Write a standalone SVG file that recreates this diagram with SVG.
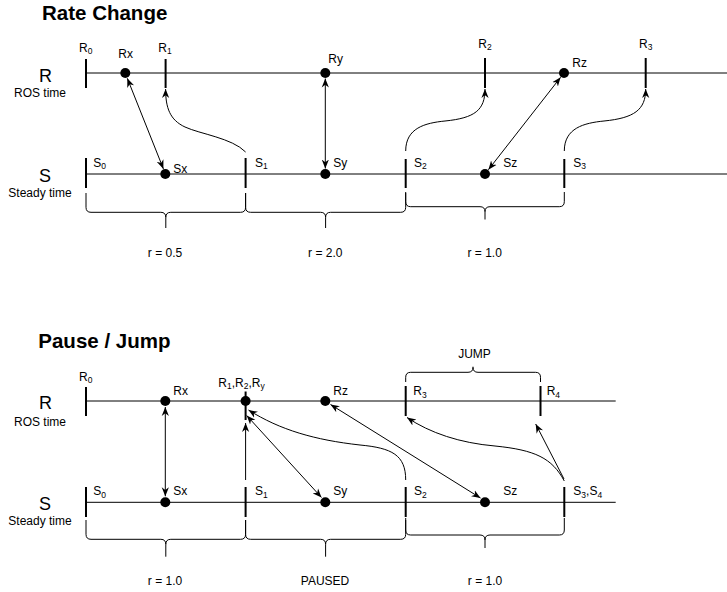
<svg xmlns="http://www.w3.org/2000/svg" width="727" height="592" viewBox="0 0 727 592">
<style>
text{font-family:"Liberation Sans",Arial,Helvetica,sans-serif;fill:#000}
.title{font-size:20.5px;font-weight:bold}
.big{font-size:18px}
.lbl{font-size:12px}
.sub{font-size:8.5px}
.mid{text-anchor:middle}
.axis{stroke:#000;stroke-width:1;fill:none}
.tick{stroke:#000;stroke-width:2;fill:none}
.dot{fill:#000}
.brace{stroke:#000;stroke-width:1;fill:none}
.edge{stroke:#000;stroke-width:1;fill:none}
.arr{marker-end:url(#ah)}
.dbl{marker-start:url(#ah);marker-end:url(#ah)}
</style>
<defs>
<marker id="ah" viewBox="0 0 10 10" refX="10" refY="5" markerWidth="9" markerHeight="9" markerUnits="userSpaceOnUse" orient="auto-start-reverse">
<path d="M0,1 L10,5 L0,9 L3,5 z" fill="#000"/>
</marker>
</defs>
<rect width="727" height="592" fill="#fff"/>

<!-- ===== Rate Change ===== -->
<g id="rate-change-title"><text class="title" x="42" y="19.5">Rate Change</text></g>
<g id="rc-axis-R">
<line class="axis" x1="86" y1="73" x2="727" y2="73"/>
<text class="big mid" x="45.5" y="81.5">R</text>
<text class="lbl mid" x="40" y="97">ROS time</text>
</g>
<g id="rc-axis-S">
<line class="axis" x1="86" y1="174" x2="727" y2="174"/>
<text class="big mid" x="45" y="182">S</text>
<text class="lbl mid" x="40" y="197">Steady time</text>
</g>
<g id="rc-R0"><line class="tick" x1="86" y1="59" x2="86" y2="88"/><text class="lbl" x="79" y="51.7">R<tspan class="sub" dy="2.5">0</tspan></text></g>
<g id="rc-Rx"><circle class="dot" cx="125.3" cy="73" r="5"/><text class="lbl" x="118.3" y="58.3">Rx</text></g>
<g id="rc-R1"><line class="tick" x1="165.6" y1="59" x2="165.6" y2="88"/><text class="lbl" x="158.3" y="51.7">R<tspan class="sub" dy="2.5">1</tspan></text></g>
<g id="rc-Ry"><circle class="dot" cx="325.3" cy="73" r="5"/><text class="lbl" x="328.3" y="63.3">Ry</text></g>
<g id="rc-R2"><line class="tick" x1="485" y1="58" x2="485" y2="88"/><text class="lbl" x="478.3" y="47.7">R<tspan class="sub" dy="2.5">2</tspan></text></g>
<g id="rc-Rz"><circle class="dot" cx="564" cy="73" r="5"/><text class="lbl" x="572.3" y="66.7">Rz</text></g>
<g id="rc-R3"><line class="tick" x1="645.7" y1="58" x2="645.7" y2="88"/><text class="lbl" x="639" y="47.7">R<tspan class="sub" dy="2.5">3</tspan></text></g>

<g id="rc-S0"><line class="tick" x1="86" y1="158" x2="86" y2="188"/><text class="lbl" x="93.3" y="166.7">S<tspan class="sub" dy="2.5">0</tspan></text></g>
<g id="rc-Sx"><circle class="dot" cx="165.3" cy="174" r="5"/><text class="lbl" x="173.3" y="173.3">Sx</text></g>
<g id="rc-S1"><line class="tick" x1="245.6" y1="158" x2="245.6" y2="188"/><text class="lbl" x="255" y="166.7">S<tspan class="sub" dy="2.5">1</tspan></text></g>
<g id="rc-Sy"><circle class="dot" cx="325.3" cy="174" r="5"/><text class="lbl" x="333.3" y="166.7">Sy</text></g>
<g id="rc-S2"><line class="tick" x1="405.7" y1="159" x2="405.7" y2="188"/><text class="lbl" x="414" y="166.7">S<tspan class="sub" dy="2.5">2</tspan></text></g>
<g id="rc-Sz"><circle class="dot" cx="485" cy="174" r="5"/><text class="lbl" x="503.3" y="166.7">Sz</text></g>
<g id="rc-S3"><line class="tick" x1="564.3" y1="159" x2="564.3" y2="188"/><text class="lbl" x="573.3" y="166.7">S<tspan class="sub" dy="2.5">3</tspan></text></g>

<g id="rc-brace-1"><path class="brace" d="M86,193 L86,207.3 Q86,212.3 91,212.3 L160.8,212.3 Q165.8,212.3 165.8,217.3 L165.8,228 M165.8,217.3 Q165.8,212.3 170.8,212.3 L240.6,212.3 Q245.6,212.3 245.6,207.3 L245.6,193"/><text class="lbl mid" x="165" y="257">r = 0.5</text></g>
<g id="rc-brace-2"><path class="brace" d="M245.6,193 L245.6,207.3 Q245.6,212.3 250.6,212.3 L320.6,212.3 Q325.6,212.3 325.6,217.3 L325.6,228 M325.6,217.3 Q325.6,212.3 330.6,212.3 L400.7,212.3 Q405.7,212.3 405.7,207.3 L405.7,193"/><text class="lbl mid" x="325.3" y="257">r = 2.0</text></g>
<g id="rc-brace-3"><path class="brace" d="M405.7,192 L405.7,201.7 Q405.7,206.7 410.7,206.7 L480,206.7 Q485,206.7 485,211.7 L485,219.5 M485,211.7 Q485,206.7 490,206.7 L559.3,206.7 Q564.3,206.7 564.3,201.7 L564.3,192"/><text class="lbl mid" x="484.7" y="257">r = 1.0</text></g>

<g id="rc-connectors">
<line class="edge dbl" x1="127.3" y1="78.3" x2="163.4" y2="168.9"/>
<path class="edge arr" d="M245.6,152 C232,138 200,134 185,127 C170,120 165.6,108 165.6,89"/>
<line class="edge dbl" x1="325.3" y1="78.5" x2="325.3" y2="168.5"/>
<path class="edge arr" d="M405.7,151 C405.7,128 425,123 445,121 C475,118 485,110 485,89"/>
<line class="edge dbl" x1="560.6" y1="77.3" x2="488.4" y2="169.7"/>
<path class="edge arr" d="M564.3,151 C564.3,128 584,123 604,121 C634,118 645.7,110 645.7,89"/>
</g>

<!-- ===== Pause / Jump ===== -->
<g id="pause-jump-title"><text class="title" x="38.3" y="347.5">Pause / Jump</text></g>
<g id="pj-axis-R">
<line class="axis" x1="86" y1="401" x2="615.7" y2="401"/>
<text class="big mid" x="45.5" y="409.3">R</text>
<text class="lbl mid" x="40" y="426">ROS time</text>
</g>
<g id="pj-axis-S">
<line class="axis" x1="86" y1="502.3" x2="615.7" y2="502.3"/>
<text class="big mid" x="45" y="510">S</text>
<text class="lbl mid" x="40" y="525">Steady time</text>
</g>
<g id="pj-R0"><line class="tick" x1="86" y1="387" x2="86" y2="416"/><text class="lbl" x="79" y="380.5">R<tspan class="sub" dy="2.5">0</tspan></text></g>
<g id="pj-Rx"><circle class="dot" cx="165.3" cy="401" r="5"/><text class="lbl" x="173.3" y="395">Rx</text></g>
<g id="pj-R1R2Ry"><line class="tick" x1="245.6" y1="391.5" x2="245.6" y2="420"/><circle class="dot" cx="245.6" cy="401" r="5"/><text class="lbl" x="218.3" y="386.7">R<tspan class="sub" dy="2.5">1</tspan><tspan dy="-2.5">,R</tspan><tspan class="sub" dy="2.5">2</tspan><tspan dy="-2.5">,R</tspan><tspan class="sub" dy="2.5">y</tspan></text></g>
<g id="pj-Rz"><circle class="dot" cx="325.3" cy="401" r="5"/><text class="lbl" x="333.3" y="395">Rz</text></g>
<g id="pj-R3"><line class="tick" x1="405.7" y1="386" x2="405.7" y2="416"/><text class="lbl" x="413.3" y="395">R<tspan class="sub" dy="2.5">3</tspan></text></g>
<g id="pj-R4"><line class="tick" x1="540.5" y1="386" x2="540.5" y2="416"/><text class="lbl" x="546.7" y="395">R<tspan class="sub" dy="2.5">4</tspan></text></g>
<g id="pj-jump-brace"><path class="brace" d="M405.7,382 L405.7,377.3 Q405.7,372.3 410.7,372.3 L468,372.3 Q473,372.3 473,367.3 L473,366.7 M473,367.3 Q473,372.3 478,372.3 L535.5,372.3 Q540.5,372.3 540.5,377.3 L540.5,382"/><text class="lbl mid" x="474.5" y="358.3">JUMP</text></g>

<g id="pj-S0"><line class="tick" x1="86" y1="487" x2="86" y2="517"/><text class="lbl" x="93.3" y="495">S<tspan class="sub" dy="2.5">0</tspan></text></g>
<g id="pj-Sx"><circle class="dot" cx="165.3" cy="502.3" r="5"/><text class="lbl" x="173.3" y="495">Sx</text></g>
<g id="pj-S1"><line class="tick" x1="245.6" y1="487" x2="245.6" y2="517"/><text class="lbl" x="255" y="495">S<tspan class="sub" dy="2.5">1</tspan></text></g>
<g id="pj-Sy"><circle class="dot" cx="325.3" cy="502.3" r="5"/><text class="lbl" x="333.3" y="495">Sy</text></g>
<g id="pj-S2"><line class="tick" x1="405.7" y1="487" x2="405.7" y2="517"/><text class="lbl" x="414" y="495">S<tspan class="sub" dy="2.5">2</tspan></text></g>
<g id="pj-Sz"><circle class="dot" cx="485" cy="502.3" r="5"/><text class="lbl" x="503.3" y="495">Sz</text></g>
<g id="pj-S3S4"><line class="tick" x1="564.3" y1="487" x2="564.3" y2="517"/><text class="lbl" x="573.3" y="495">S<tspan class="sub" dy="2.5">3</tspan><tspan dy="-2.5">,S</tspan><tspan class="sub" dy="2.5">4</tspan></text></g>

<g id="pj-brace-1"><path class="brace" d="M86,520 L86,534.3 Q86,539.3 91,539.3 L160.8,539.3 Q165.8,539.3 165.8,544.3 L165.8,556.7 M165.8,544.3 Q165.8,539.3 170.8,539.3 L240.6,539.3 Q245.6,539.3 245.6,534.3 L245.6,520"/><text class="lbl mid" x="165" y="585">r = 1.0</text></g>
<g id="pj-brace-2"><path class="brace" d="M245.6,520 L245.6,534.3 Q245.6,539.3 250.6,539.3 L320.6,539.3 Q325.6,539.3 325.6,544.3 L325.6,556.7 M325.6,544.3 Q325.6,539.3 330.6,539.3 L400.7,539.3 Q405.7,539.3 405.7,534.3 L405.7,520"/><text class="lbl mid" x="325" y="585">PAUSED</text></g>
<g id="pj-brace-3"><path class="brace" d="M405.7,518 L405.7,530 Q405.7,535 410.7,535 L480,535 Q485,535 485,540 L485,548 M485,540 Q485,535 490,535 L559.3,535 Q564.3,535 564.3,530 L564.3,518"/><text class="lbl mid" x="485" y="585">r = 1.0</text></g>

<g id="pj-connectors">
<line class="edge dbl" x1="165.3" y1="407" x2="165.3" y2="496.3"/>
<line class="edge arr" x1="245.6" y1="480" x2="245.6" y2="423"/>
<line class="edge dbl" x1="246.7" y1="415.5" x2="321.5" y2="497.5"/>
<path class="edge arr" d="M405.7,480 C405.7,455 392,448 360,445 C315,440 280,430 248.5,410"/>
<line class="edge dbl" x1="330.5" y1="404.5" x2="480.5" y2="498"/>
<path class="edge arr" d="M564.3,481 C552,458 535,450 495,446 C460,443 430,433 407,417.5"/>
<line class="edge arr" x1="564" y1="479" x2="535.7" y2="424"/>
</g>
</svg>
